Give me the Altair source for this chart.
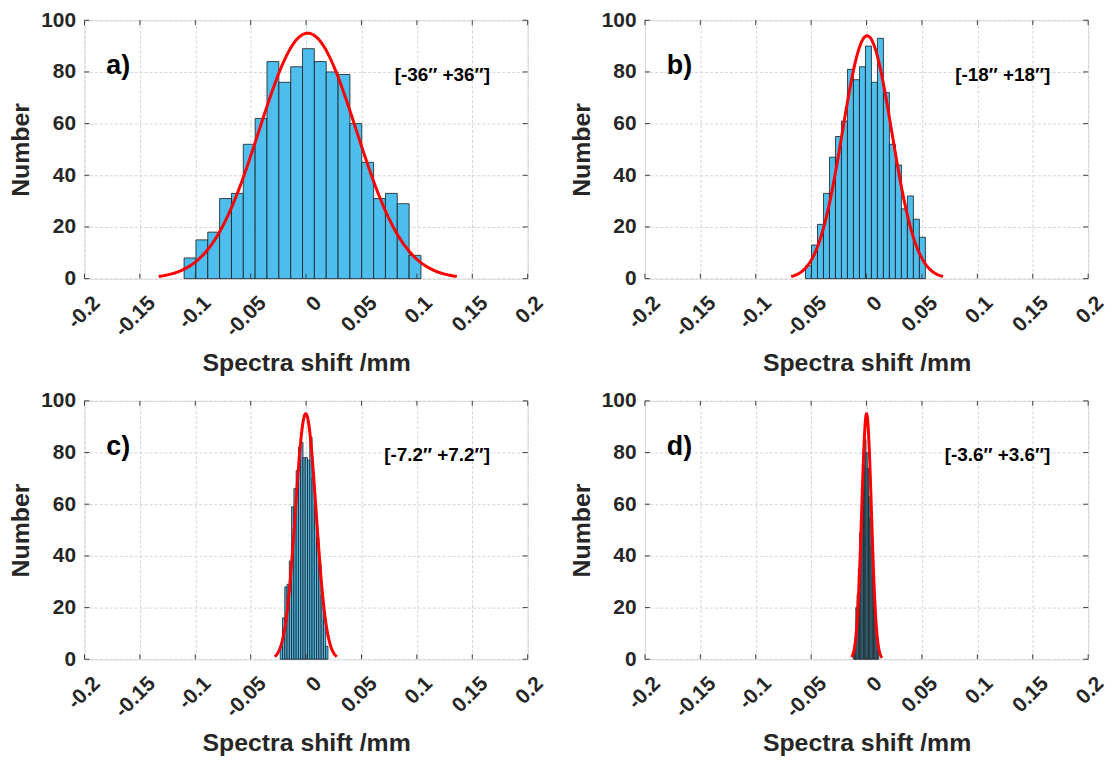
import altair as alt
import numpy as np
import pandas as pd

# ---------------- data ----------------
x_ticks = [-0.2, -0.15, -0.1, -0.05, 0, 0.05, 0.1, 0.15, 0.2]
y_ticks = [0, 20, 40, 60, 80, 100]

panel_letters = ["a)", "b)", "c)", "d)"]
range_labels = ["[-36\u2033 +36\u2033]", "[-18\u2033 +18\u2033]",
                "[-7.2\u2033 +7.2\u2033]", "[-3.6\u2033 +3.6\u2033]"]

bin_start = [-0.1101, -0.0551, -0.0233, -0.0120]
bin_width = [0.01069, 0.00541, 0.00205, 0.00115]

counts_a = [8, 15, 18, 31, 33, 52, 62, 84, 76, 82, 89, 84, 80, 79, 60, 45, 31, 33, 29, 9]
counts_b = [5, 13, 21, 33, 47, 55, 61, 81, 77, 82, 90, 76, 93, 72, 52, 44, 27, 32, 23, 16]
counts_c = [5, 16, 28, 29, 38, 59, 66, 73, 82, 84, 78, 78, 77, 86, 70, 60, 47, 37, 25, 15, 5]
counts_d = [2, 8, 20, 25, 35, 49, 55, 66, 75, 85, 80, 74, 63, 55, 44, 33, 24, 16, 9, 3]
all_counts = [counts_a, counts_b, counts_c, counts_d]

# Gaussian fit parameters (red curves)
fit_amp = [95, 94, 95, 95]
fit_mu = [0.0015, 0.0005, -0.0003, 0.0]
fit_sigma = [0.0437, 0.0222, 0.0093, 0.0044]
fit_lo = [-0.133, -0.068, -0.0283, -0.0135]
fit_hi = [0.136, 0.069, 0.0278, 0.0140]

# ---------------- styling ----------------
FONT = "Liberation Sans"
TXT = "#262626"
W, H = 446, 260

xscale = alt.Scale(domain=[-0.2, 0.2], nice=False, zero=False)
yscale = alt.Scale(domain=[0, 100], nice=False)

xaxis = alt.Axis(values=x_ticks, labelExpr="'' + datum.value", labelAngle=315,
                 labelAlign="right", labelBaseline="middle", labelPadding=21,
                 labelOffset=12, ticks=False, domain=False,
                 grid=True, gridDash=[3, 2], gridColor="#d4d4d4", gridWidth=1,
                 labelFont=FONT, labelFontSize=21, labelFontWeight="bold", labelColor=TXT,
                 labelFlush=False, labelOverlap=False,
                 title="Spectra shift /mm", titleFont=FONT, titleFontSize=25,
                 titleFontWeight="bold", titleColor=TXT, titleY=92,
                 titleBaseline="alphabetic")
yaxis = alt.Axis(values=y_ticks, labelPadding=9, ticks=False, domain=False,
                 grid=True, gridDash=[3, 2], gridColor="#d4d4d4", gridWidth=1,
                 labelFont=FONT, labelFontSize=21, labelFontWeight="bold", labelColor=TXT,
                 labelFlush=False, labelOverlap=False,
                 title="Number", titleFont=FONT, titleFontSize=25,
                 titleFontWeight="bold", titleColor=TXT, titleX=-56,
                 titleBaseline="alphabetic")


def panel(i):
    counts = all_counts[i]
    lefts = [bin_start[i] + k * bin_width[i] for k in range(len(counts))]
    rights = [l + bin_width[i] for l in lefts]
    bars_df = pd.DataFrame({"x": lefts, "x2": rights, "n": counts})

    xs = np.linspace(fit_lo[i], fit_hi[i], 300)
    ys = fit_amp[i] * np.exp(-(xs - fit_mu[i]) ** 2 / (2 * fit_sigma[i] ** 2))
    curve_df = pd.DataFrame({"x": xs, "y": ys})

    bars = alt.Chart(bars_df).mark_rect(
        color="#4DBEEE", stroke="#1a1a1a", strokeWidth=0.8
    ).encode(
        x=alt.X("x:Q", scale=xscale, axis=xaxis),
        x2="x2:Q",
        y=alt.Y("n:Q", scale=yscale, axis=yaxis),
        y2=alt.datum(0),
    )
    curve = alt.Chart(curve_df).mark_line(color="#FF0000", strokeWidth=3).encode(
        x=alt.X("x:Q", scale=xscale), y=alt.Y("y:Q", scale=yscale)
    )

    xt = pd.DataFrame({"t": x_ticks})
    yt = pd.DataFrame({"t": y_ticks})
    tick_col = "#404040"
    bt = alt.Chart(xt).mark_rule(color=tick_col, strokeWidth=1).encode(
        x=alt.X("t:Q", scale=xscale), y=alt.value(H), y2=alt.value(H - 5))
    tt = alt.Chart(xt).mark_rule(color=tick_col, strokeWidth=1).encode(
        x=alt.X("t:Q", scale=xscale), y=alt.value(0), y2=alt.value(5))
    lt = alt.Chart(yt).mark_rule(color=tick_col, strokeWidth=1).encode(
        y=alt.Y("t:Q", scale=yscale), x=alt.value(0), x2=alt.value(5))
    rt = alt.Chart(yt).mark_rule(color=tick_col, strokeWidth=1).encode(
        y=alt.Y("t:Q", scale=yscale), x=alt.value(W), x2=alt.value(W - 5))

    letter = alt.Chart(pd.DataFrame({"s": [panel_letters[i]]})).mark_text(
        font=FONT, fontSize=27, fontWeight="bold", color="#000000",
        align="left", baseline="middle"
    ).encode(text="s:N", x=alt.value(22), y=alt.value(46))
    rng = alt.Chart(pd.DataFrame({"s": [range_labels[i]]})).mark_text(
        font=FONT, fontSize=19, fontWeight="bold", color="#000000",
        align="right", baseline="middle"
    ).encode(text="s:N", x=alt.value(408), y=alt.value(55))

    return alt.layer(bars, curve, bt, tt, lt, rt, letter, rng).properties(width=W, height=H)


chart = alt.concat(
    panel(0), panel(1), panel(2), panel(3), columns=2,
    spacing={"row": 123, "column": 118}, bounds="flush"
).properties(
    padding={"left": 8, "top": 6, "right": 5, "bottom": 0}
).configure_view(
    stroke="#404040", strokeWidth=1.4
).configure(background="white")

chart.save("out.html", embed_options={"renderer": "svg", "actions": False})
